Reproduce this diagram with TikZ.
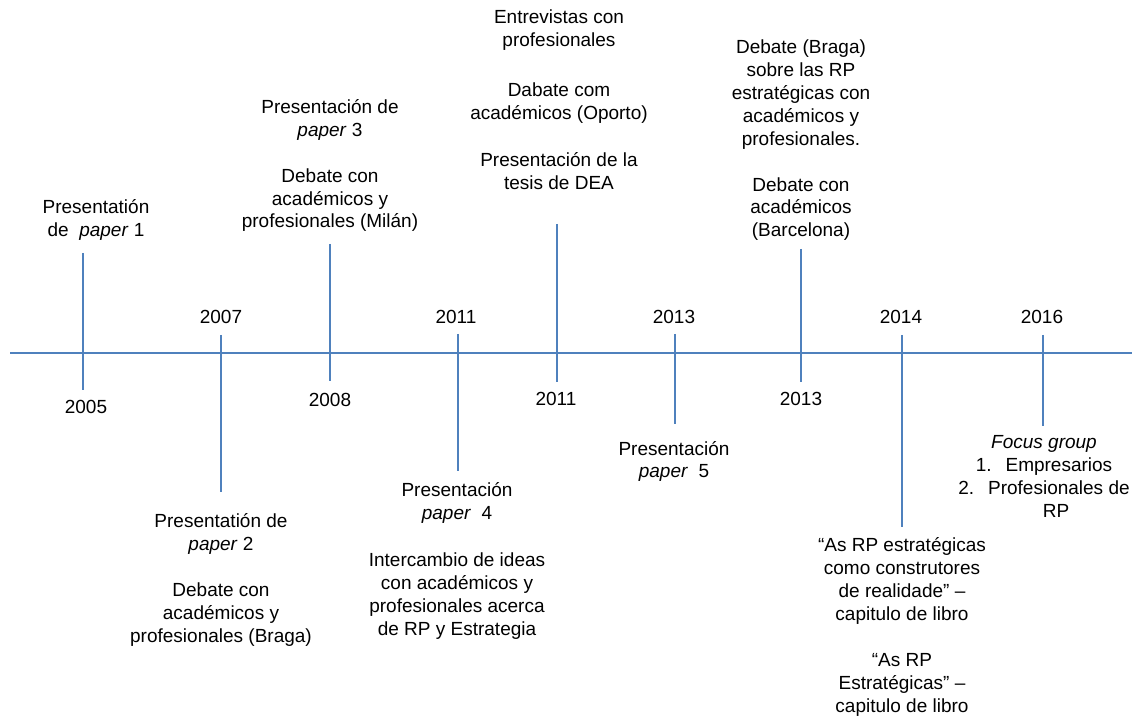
\documentclass[tikz,border=0pt]{standalone}
\usepackage{fontspec}
\setmainfont{Liberation Sans}
\definecolor{lineblue}{HTML}{4F81BD}
\begin{document}
\begin{tikzpicture}[x=0.5pt,y=-0.5pt,
  every node/.style={font=\fontsize{9.5}{11.5}\selectfont,inner sep=0pt,anchor=base,align=center},
  tick/.style={lineblue,line width=0.9pt}]
\useasboundingbox (0,0) rectangle (1132,717);
% time axis
\coordinate (axisL) at (10,353);
\coordinate (axisR) at (1132,353);
\draw[tick] (axisL) -- (axisR);
% ticks: name/x/top/bottom
\foreach \n/\x/\ya/\yb in {t05/83/253/390, t07/221/335/492, t08/330/244/381, t11a/458/334/471,
  t11b/557/224/382, t13a/675/334/424, t13b/801/249/382, t14/902/335/527, t16/1043/335/426}
  {\coordinate (\n-top) at (\x,\ya); \coordinate (\n-bot) at (\x,\yb); \draw[tick] (\n-top) -- (\n-bot);}
% years
\foreach \n/\x/\y/\t in {y05/86/414/2005, y07/221/323/2007, y08/330/407/2008, y11a/456/323/2011,
  y11b/556/406/2011, y13a/674/323/2013, y13b/801/406/2013, y14/901/323/2014, y16/1042/323/2016}
  {\node (\n) at (\x,\y) {\t};}
% events above the axis (placed by the baseline of their last line)
\node (e05) at (96,237) {Presentatión\\de\ \ \textit{paper} 1};
\node (e08) at (330,228) {Presentación de\\\textit{paper} 3\\[11.5pt]Debate con\\académicos y\\profesionales (Milán)};
\node (e11b) at (559,190) {Entrevistas con\\profesionales\\[13.5pt]Dabate com\\académicos (Oporto)\\[12pt]Presentación de la\\tesis de DEA};
\node (e13b) at (801,237) {Debate (Braga)\\sobre las RP\\estratégicas con\\académicos y\\profesionales.\\[11.5pt]Debate con\\académicos\\(Barcelona)};
% events below the axis
\node (e07) at (221,642) {Presentatión de\\\textit{paper} 2\\[11.5pt]Debate con\\académicos y\\profesionales (Braga)};
\node (e11a) at (457,635) {Presentación\\\textit{paper}\ \ 4\\[12pt]Intercambio de ideas\\con académicos y\\profesionales acerca\\de RP y Estrategia};
\node (e13a) at (674,478) {Presentación\\\textit{paper}\ \ 5};
\node (e14) at (902,712) {“As RP estratégicas\\como construtores\\de realidade” –\\capitulo de libro\\[11.5pt]“As RP\\Estratégicas” –\\capitulo de libro};
\node (e16) at (1044,517) {\textit{Focus group}\\1.\hspace{7pt}Empresarios\\2.\hspace{7pt}Profesionales de\\\hspace*{12pt}RP};
\end{tikzpicture}
\end{document}
